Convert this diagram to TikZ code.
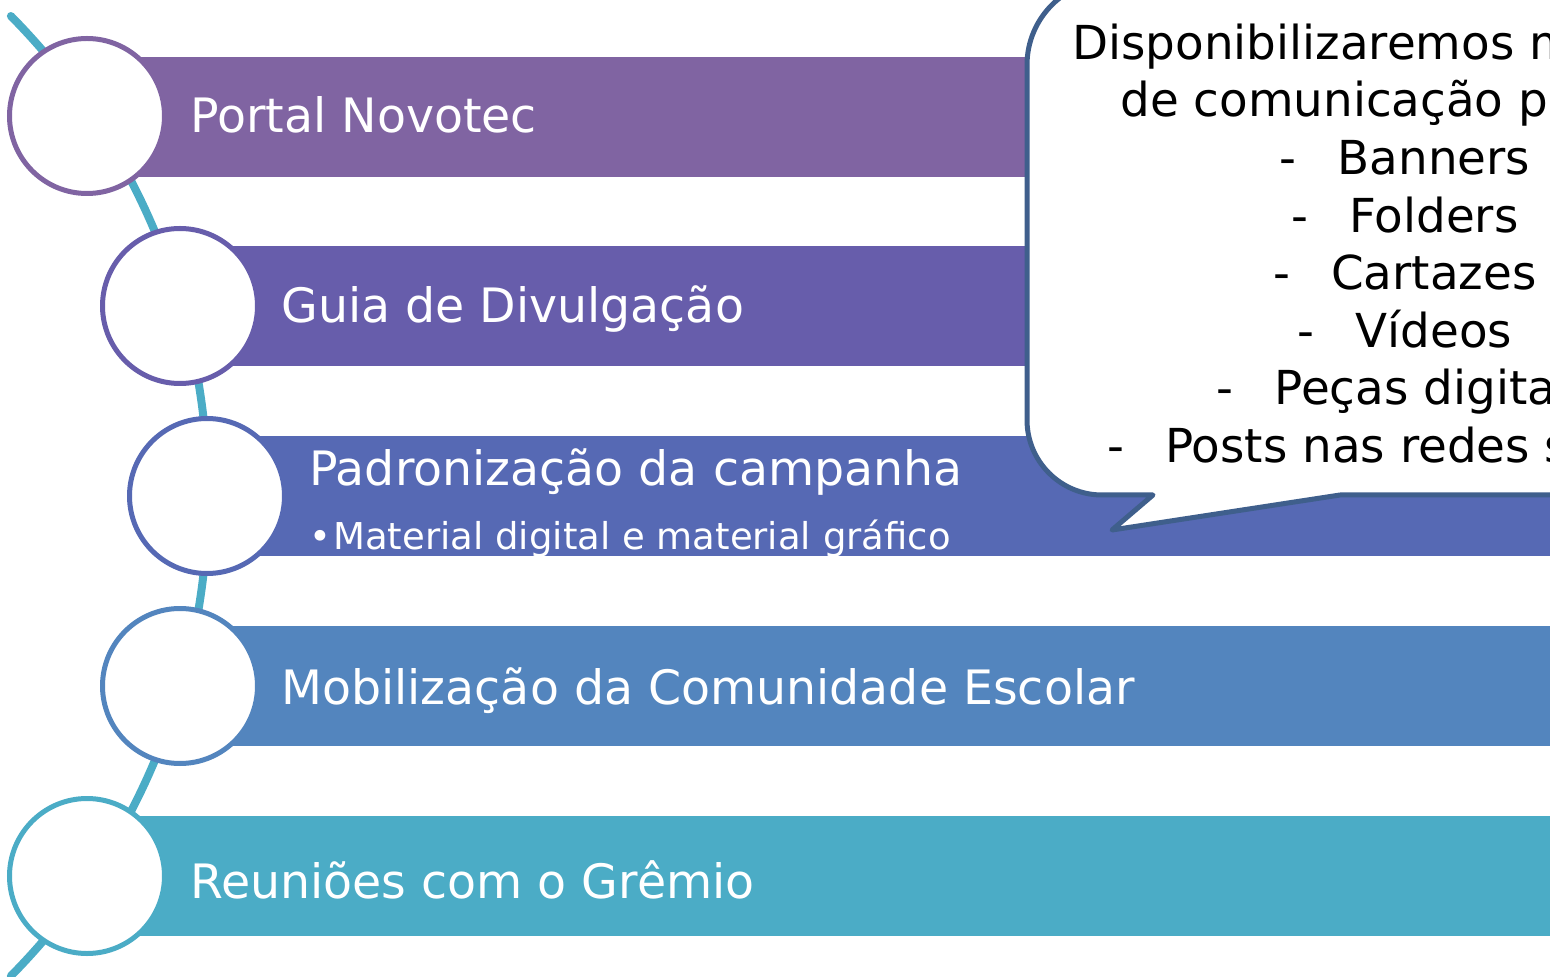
\documentclass[tikz,border=0pt]{standalone}
\usepackage{fontspec}
\setmainfont{DejaVu Sans}
\newcommand\calldash{\makebox[29pt][l]{-}}
\definecolor{cA}{HTML}{8064A2}
\definecolor{cB}{HTML}{675DAB}
\definecolor{cC}{HTML}{5669B4}
\definecolor{cD}{HTML}{5385BE}
\definecolor{cE}{HTML}{4BACC6}
\definecolor{cEdge}{HTML}{3F5F8C}
\tikzset{
  bartext/.style={anchor=base west, text=white, inner sep=0pt, font=\fontsize{23.7}{28}\selectfont},
  subtext/.style={anchor=base west, text=white, inner sep=0pt, font=\fontsize{18.5}{22}\selectfont},
  ring/.style={circle, draw=#1, line width=2.5pt, fill=white, minimum size=77.5pt, inner sep=0pt},
  callline/.style={anchor=base, inner sep=0pt, text=black, font=\fontsize{23.4}{27}\selectfont},
  spine/.style={draw=cE, line width=4pt, line cap=round},
  callout/.style={draw=cEdge, line width=2.5pt, fill=white, line join=round}
}
\begin{document}
\begin{tikzpicture}[x=0.5pt,y=0.5pt]
\useasboundingbox (0,0) rectangle (1550,-977);
\clip (0,0) rectangle (1550,-977);
% spine
\draw[spine] (-475,-496) ++(44.65:683) arc[start angle=44.65, end angle=-44.65, radius=683];
% bars
\fill[cA] (87,-57) rectangle (1560,-177);
\fill[cB] (180,-246) rectangle (1560,-366);
\fill[cC] (207,-436) rectangle (1560,-556);
\fill[cD] (180,-626) rectangle (1560,-746);
\fill[cE] (87,-816) rectangle (1560,-936);
% circles
\node[ring=cA] (r1) at (87,-116) {};
\node[ring=cB] (r2) at (180,-306) {};
\node[ring=cC] (r3) at (207,-496) {};
\node[ring=cD] (r4) at (180,-686) {};
\node[ring=cE] (r5) at (87,-876) {};
% bar texts
\node[bartext] (t1) at (190,-133) {Portal Novotec};
\node[bartext] (t2) at (281,-323) {Guia de Divulgação};
\node[bartext] (t3) at (309,-486) {Padronização da campanha};
\node[subtext] (t3b) at (309,-549) {\makebox[12pt][l]{•}Material digital e material gráfico};
\node[bartext] (t4) at (281,-704) {Mobilização da Comunidade Escolar};
\node[bartext] (t5) at (190,-898) {Reuniões com o Grêmio};
% callout
\path[callout] (1620,20) -- (1112,20) arc[start angle=90, end angle=180, radius=85]
  -- (1027,-420) arc[start angle=180, end angle=270, radius=75]
  -- (1153,-495) -- (1112,-530) -- (1340,-495) -- (1620,-495);
\node[callline, anchor=base west] (c1) at (1072,-60) {Disponibilizaremos materiais};
\node[callline, anchor=base west] (c2) at (1120,-117) {de comunicação para:};
\node[callline] (c3) at (1405,-175) {\calldash Banners};
\node[callline] (c4) at (1405,-233) {\calldash Folders};
\node[callline] (c5) at (1405,-290) {\calldash Cartazes};
\node[callline] (c6) at (1405,-348) {\calldash Vídeos};
\node[callline] (c7) at (1405,-405) {\calldash Peças digitais};
\node[callline] (c8) at (1405,-463) {\calldash Posts nas redes sociais};
\end{tikzpicture}
\end{document}
